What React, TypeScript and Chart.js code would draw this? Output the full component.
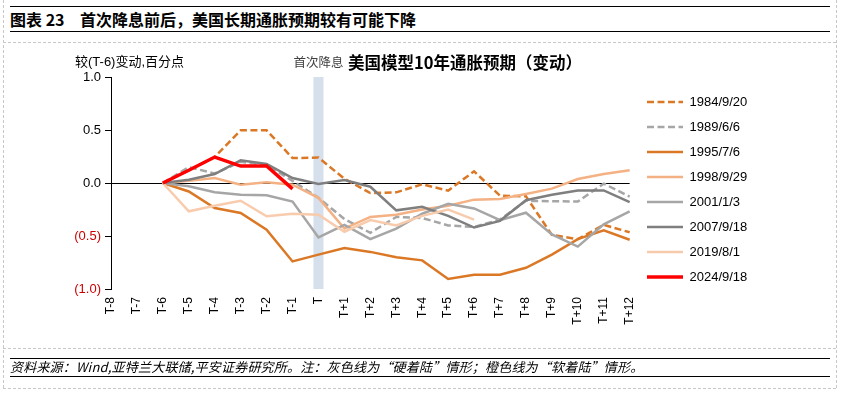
import React, { useEffect, useRef } from 'react';
import { Chart, registerables } from 'chart.js';

Chart.register(...registerables);

// ---- data ----
const periods = ['T-8', 'T-7', 'T-6', 'T-5', 'T-4', 'T-3', 'T-2', 'T-1', 'T', 'T+1', 'T+2', 'T+3', 'T+4', 'T+5', 'T+6', 'T+7', 'T+8', 'T+9', 'T+10', 'T+11', 'T+12'];
const seriesNames = ['1984/9/20', '1989/6/6', '1995/7/6', '1998/9/29', '2001/1/3', '2007/9/18', '2019/8/1', '2024/9/18'];
const s1984 = [null, null, 0, 0.12, 0.245, 0.497, 0.497, 0.235, 0.24, 0.04, -0.095, -0.088, -0.012, -0.072, 0.11, -0.12, -0.126, -0.49, -0.53, -0.395, -0.465];
const s1989 = [null, null, 0, 0.15, 0.09, 0.2, 0.17, 0.02, -0.14, -0.34, -0.47, -0.32, -0.33, -0.4, -0.415, -0.345, -0.168, -0.172, -0.175, -0.006, -0.128];
const s1995 = [null, null, 0, -0.08, -0.236, -0.283, -0.44, -0.74, -0.676, -0.613, -0.65, -0.7, -0.73, -0.906, -0.865, -0.865, -0.8, -0.676, -0.53, -0.447, -0.535];
const s1998 = [null, null, 0, 0.02, 0.047, -0.016, 0.006, -0.016, -0.14, -0.43, -0.32, -0.3, -0.25, -0.214, -0.157, -0.15, -0.104, -0.053, 0.038, 0.085, 0.12];
const s2001 = [null, null, 0, -0.03, -0.088, -0.11, -0.116, -0.175, -0.513, -0.395, -0.53, -0.43, -0.29, -0.197, -0.24, -0.35, -0.28, -0.485, -0.6, -0.39, -0.268];
const s2007 = [null, null, 0, 0.03, 0.085, 0.214, 0.18, 0.047, -0.01, 0.028, -0.035, -0.258, -0.225, -0.31, -0.42, -0.357, -0.162, -0.11, -0.07, -0.07, -0.18];
const s2019 = [null, null, 0, -0.267, -0.214, -0.167, -0.314, -0.29, -0.3, -0.46, -0.35, -0.4, -0.31, -0.25, -0.346, null, null, null, null, null, null];
const s2024 = [null, null, 0, 0.12, 0.245, 0.16, 0.16, -0.055, null, null, null, null, null, null, null, null, null, null, null, null, null];
const seriesValues = [s1984, s1989, s1995, s1998, s2001, s2007, s2019, s2024];
const cutPeriod = 'T';
const cutLabel = '首次降息';
const yMin = -1;
const yMax = 1;
const yStep = 0.5;

const mainTitle = '美国模型10年通胀预期（变动）';
const yUnit = '较(T-6)变动,百分点';
const figNo = '图表 23';
const figTitle = '首次降息前后，美国长期通胀预期较有可能下降';
const sourceNote = '资料来源：Wind,亚特兰大联储,平安证券研究所。注：灰色线为“硬着陆”情形；橙色线为“软着陆”情形。';

const ORANGE = '#DB7826';
const styles = [
  { color: ORANGE, dash: [7, 3.5], width: 2.5 },
  { color: '#A6A6A6', dash: [7, 3.5], width: 2.5 },
  { color: ORANGE, dash: [], width: 2.5 },
  { color: '#F4B183', dash: [], width: 2.5 },
  { color: '#A6A6A6', dash: [], width: 2.5 },
  { color: '#7F7F7F', dash: [], width: 2.5 },
  { color: '#F8CBAD', dash: [], width: 2.5 },
  { color: '#FF0000', dash: [], width: 3.5 },
];

const CJK = '"Liberation Sans", "Noto Sans CJK SC", sans-serif';

const bandPlugin = {
  id: 'cutBand',
  beforeDraw(chart: any) {
    const { ctx, chartArea, scales } = chart;
    const x = scales.x.getPixelForValue(periods.indexOf(cutPeriod));
    ctx.save();
    ctx.fillStyle = '#D6DFEC';
    ctx.fillRect(x - 5, chartArea.top, 10, chartArea.bottom - chartArea.top);
    ctx.fillStyle = '#404040';
    ctx.font = '12.5px "Noto Sans CJK SC"';
    ctx.textAlign = 'center';
    ctx.textBaseline = 'middle';
    ctx.fillText(cutLabel, x, chartArea.top - 15);
    ctx.restore();
  },
  afterLayout(chart: any) {
    const lg = chart.legend;
    if (!lg) return;
    const dx = 635 - lg.left;
    lg.left += dx;
    lg.right += dx;
    const dy = 83.5 - lg.top;
    lg.top += dy;
    lg.bottom += dy;
  },
};

function ChartCanvas() {
  const ref = useRef<HTMLCanvasElement | null>(null);
  useEffect(() => {
    if (!ref.current) return;
    Chart.defaults.font.family = '"Liberation Sans", Arial, sans-serif';
    Chart.defaults.color = '#000';
    const datasets = seriesNames.map((name, i) => ({
      label: name,
      data: seriesValues[i],
      borderColor: styles[i].color,
      backgroundColor: styles[i].color,
      borderDash: styles[i].dash,
      borderWidth: styles[i].width,
      pointRadius: 0,
      pointHoverRadius: 0,
      tension: 0,
      fill: false,
      order: seriesNames.length - i,
    }));
    const chart = new Chart(ref.current, {
      type: 'line',
      data: { labels: periods, datasets },
      options: {
        animation: false,
        responsive: false,
        devicePixelRatio: 1,
        layout: { padding: { left: 51, top: 77, right: 92, bottom: 67 } },
        plugins: {
          tooltip: { enabled: false },
          legend: {
            position: 'right',
            align: 'start',
            labels: {
              usePointStyle: true,
              pointStyle: 'line',
              pointStyleWidth: 36,
              padding: 12,
              color: '#000',
              font: { size: 13 },
              generateLabels: (ch: any) =>
                ch.data.datasets.map((ds: any, i: number) => ({
                  text: ds.label,
                  datasetIndex: i,
                  hidden: false,
                  fillStyle: ds.borderColor,
                  strokeStyle: ds.borderColor,
                  lineWidth: ds.borderWidth,
                  lineDash: ds.borderDash,
                  lineCap: 'butt',
                  pointStyle: 'line',
                  rotation: 0,
                  fontColor: '#000',
                })),
            },
          },
        },
        scales: {
          x: {
            type: 'category',
            offset: false,
            grid: { display: false, drawTicks: false },
            border: { display: false },
            ticks: { autoSkip: false, maxRotation: 90, minRotation: 90, padding: 8, font: { size: 12 }, color: '#000' },
            afterFit: (s: any) => { s.height = 40; },
          },
          y: {
            min: yMin,
            max: yMax,
            ticks: {
              stepSize: yStep,
              padding: 4,
              font: { size: 13 },
              color: (c: any) => (c.tick && c.tick.value < 0 ? '#CC0000' : '#000'),
              callback: (v: any) => {
                const n = Number(v);
                const s = Math.abs(n).toFixed(1);
                return n < 0 ? `(${s})` : s;
              },
            },
            grid: {
              color: (c: any) => (c.tick && Math.abs(c.tick.value) < 1e-9 ? '#000' : 'rgba(0,0,0,0)'),
              tickColor: '#000',
              tickLength: 6,
              lineWidth: 1,
            },
            border: { display: true, color: '#000', width: 1 },
            afterFit: (s: any) => { s.width = 60; },
          },
        },
      },
      plugins: [bandPlugin],
    } as any);
    return () => chart.destroy();
  }, []);
  return <canvas ref={ref} width={844} height={396} style={{ position: 'absolute', left: 0, top: 0, width: 844, height: 396 }} />;
}

const dashH = (top: number) => (
  <div style={{ position: 'absolute', left: 3, top, width: 833, height: 0, borderTop: '1px dashed #C8C8C8' }} />
);
const solidH = (top: number) => (
  <div style={{ position: 'absolute', left: 10, top, width: 820, height: 0, borderTop: '1.5px solid #000' }} />
);

export default function App() {
  return (
    <div style={{ position: 'absolute', left: 0, top: 0, width: 844, height: 396, background: '#fff', overflow: 'hidden', fontFamily: CJK }}>
      <div style={{ position: 'absolute', left: 3, top: 0, width: 0, height: 388, borderLeft: '1px dashed #C8C8C8' }} />
      <div style={{ position: 'absolute', left: 836, top: 0, width: 0, height: 388, borderLeft: '1px dashed #C8C8C8' }} />
      {dashH(42)}
      {dashH(348)}
      {dashH(388)}
      {solidH(6)}
      {solidH(31)}
      {solidH(358)}
      {solidH(376)}
      <div style={{ position: 'absolute', left: 10, top: 9, height: 21, lineHeight: '21px', fontSize: 16, fontWeight: 700, whiteSpace: 'nowrap', fontFamily: '"Noto Sans CJK SC", sans-serif' }}>{figNo}</div>
      <div style={{ position: 'absolute', left: 80, top: 9, height: 21, lineHeight: '21px', fontSize: 16, fontWeight: 700, whiteSpace: 'nowrap', fontFamily: '"Noto Sans CJK SC", sans-serif' }}>{figTitle}</div>
      <ChartCanvas />
      <div style={{ position: 'absolute', left: 75, top: 52, height: 20, lineHeight: '20px', fontSize: 13, whiteSpace: 'nowrap', color: '#000' }}>{yUnit}</div>
      <div style={{ position: 'absolute', left: 348, top: 51, height: 22, lineHeight: '22px', fontSize: 16.5, fontWeight: 700, whiteSpace: 'nowrap', color: '#000', fontFamily: '"Noto Sans CJK SC", sans-serif' }}>{mainTitle}</div>
      <div style={{ position: 'absolute', left: 10, top: 358, height: 18, lineHeight: '18px', fontSize: 13, letterSpacing: 0.2, fontStyle: 'italic', whiteSpace: 'nowrap', color: '#000', fontFamily: '"Noto Sans CJK SC", sans-serif' }}>{sourceNote}</div>
    </div>
  );
}
